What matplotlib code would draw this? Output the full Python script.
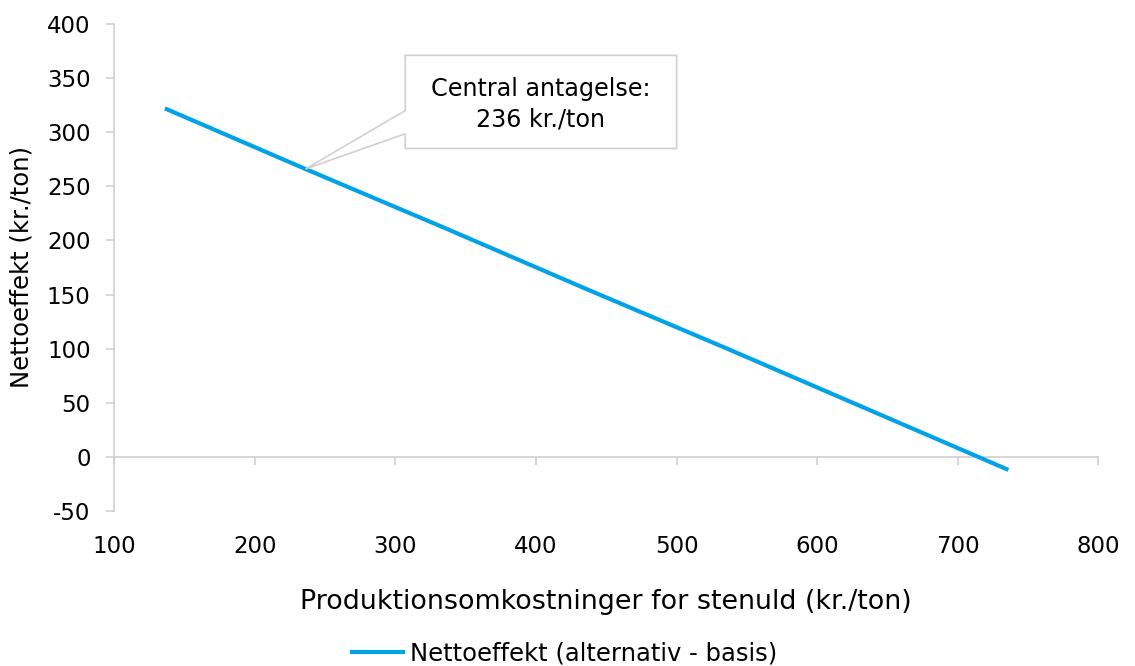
import matplotlib
matplotlib.use('Agg')
import matplotlib.pyplot as plt
from matplotlib.patches import Polygon

# production cost (kr./ton) vs. net effect (kr./ton)
cost = [136, 236, 336, 436, 536, 636, 736]
net_effect = [322, 266, 211, 155, 100, 44, -12]
central_cost = 236
central_effect = 266
series_label = 'Nettoeffekt (alternativ - basis)'
callout_text = 'Central antagelse:\n236 kr./ton'
xticks = [100, 200, 300, 400, 500, 600, 700, 800]
yticks = [-50, 0, 50, 100, 150, 200, 250, 300, 350, 400]

plt.rcParams['font.family'] = ['DejaVu Sans']
grey = '#d0d0d0'
blue = '#00a2e8'

fig = plt.figure(figsize=(11.35, 6.66), dpi=100)
ax = fig.add_axes([0.1007, 0.2327, 0.867, 0.7313])

line, = ax.plot(cost, net_effect, color=blue, lw=3, solid_capstyle='butt', zorder=3)

ax.set_xlim(100, 800)
ax.set_ylim(-50, 400)
ax.set_yticks(yticks)
ax.set_yticklabels([str(v) for v in yticks])

# horizontal axis line sits at y=0, labels stay at the bottom
for s in ['top', 'right', 'bottom']:
    ax.spines[s].set_visible(False)
ax.spines['left'].set_color(grey)
ax.spines['left'].set_linewidth(1.2)
ax.tick_params(axis='y', direction='out', length=6, width=1.2, color=grey,
               labelsize=16.5, pad=11)
ax.set_xticks(xticks)
ax.set_xticklabels([str(v) for v in xticks])
ax.tick_params(axis='x', length=0, labelsize=16.5, pad=17)

zero_axis = ax.secondary_xaxis(50 / 450)
zero_axis.set_xticks(xticks)
zero_axis.tick_params(axis='x', direction='out', length=6, width=1.2, color=grey,
                      labelbottom=False)
zero_axis.spines['bottom'].set_color(grey)
zero_axis.spines['bottom'].set_linewidth(1.2)

ax.set_ylabel('Nettoeffekt (kr./ton)', fontsize=17.5)
ax.yaxis.set_label_coords(-0.0826, 0.5)
ax.set_xlabel('Produktionsomkostninger for stenuld (kr./ton)', fontsize=19.4)
ax.xaxis.set_label_coords(0.5, -0.16)

# callout box with a wedge pointing at the central assumption
box_l, box_r, box_t, box_b = 307, 500, 371, 285
callout = Polygon([(box_l, box_t), (box_r, box_t), (box_r, box_b), (box_l, box_b),
                   (box_l, 298.6), (central_cost, central_effect), (box_l, 320)],
                  closed=True, facecolor='white', edgecolor=grey, lw=1.2, zorder=4)
ax.add_patch(callout)
ax.text((box_l + box_r) / 2, 326, callout_text, ha='center', va='center',
        fontsize=17.2, linespacing=1.36, zorder=5)

fig.legend([line], [series_label], loc='center', bbox_to_anchor=(0.4965, 0.0195),
           frameon=False, fontsize=17.5, handlelength=2.3, handletextpad=0.2)

fig.savefig('out.png', dpi=100)
